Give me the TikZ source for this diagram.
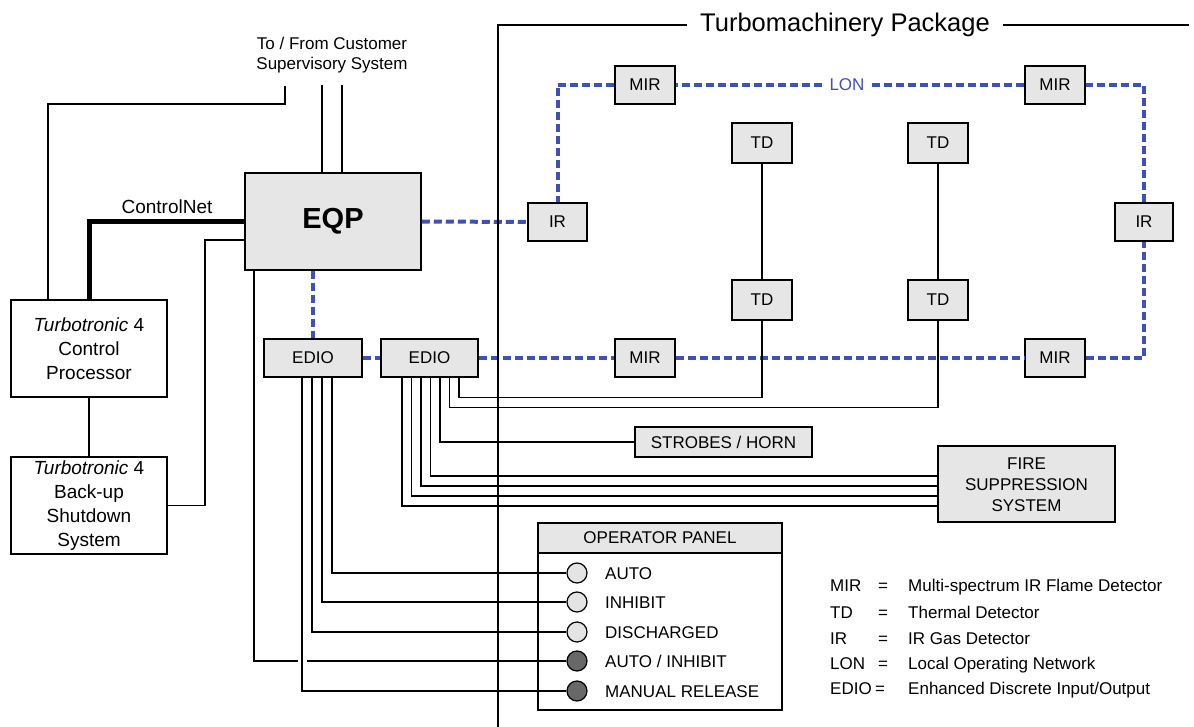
\documentclass[tikz,border=0pt]{standalone}
\usepackage{fontspec}
\setmainfont{Liberation Sans}
\definecolor{boxgray}{HTML}{E6E6E6}
\definecolor{lonblue}{HTML}{3F51B5}
\definecolor{dotlight}{HTML}{E4E4E4}
\definecolor{dotdark}{HTML}{686868}
\begin{document}
\begin{tikzpicture}[x=1pt,y=-1pt,
  every node/.style={inner sep=0pt, font=\fontsize{17}{20}\selectfont},
  wire/.style={line width=1.2pt},
  lonline/.style={draw=lonblue, line width=4pt, dash pattern=on 8pt off 4pt},
  unit/.style={draw, line width=1.5pt, fill=boxgray, minimum width=60pt, minimum height=38pt},
  whitebox/.style={draw, line width=1.5pt, fill=white, minimum width=156pt, minimum height=97pt, align=center, font=\fontsize{19}{24}\selectfont},
  lamp/.style={circle, draw, line width=1.2pt, minimum size=20pt},
  lbl/.style={anchor=west, text height=12.2pt, text depth=0pt},
]
\useasboundingbox (0,0) rectangle (1194,727);

% ---------- nodes ----------
\node[font=\fontsize{17}{19.5}\selectfont, align=center] (cust) at (332,55) {To / From Customer\\Supervisory System};
\node[unit, minimum width=176pt, minimum height=97pt, font=\fontsize{29}{34}\selectfont\bfseries] (eqp) at (333,221.5) {EQP};
\node[whitebox] (cp) at (89,348.5) {\textit{Turbotronic} 4\\Control\\Processor};
\node[whitebox] (bu) at (89,505.5) {\textit{Turbotronic} 4\\Back-up\\Shutdown\\System};
\node[font=\fontsize{19}{22}\selectfont] (cnet) at (167,207) {ControlNet};

\node[unit, minimum width=98pt] (edio1) at (313,358) {EDIO};
\node[unit, minimum width=97pt] (edio2) at (429.5,358) {EDIO};
\node[unit, minimum width=59pt] (ir1) at (557.5,222) {IR};
\node[unit] (mir1) at (645,85) {MIR};
\node[unit] (mir2) at (1055,85) {MIR};
\node[text=lonblue, inner xsep=7pt] (lon) at (847,85) {LON};
\node[unit, minimum height=40pt] (td1) at (762,143) {TD};
\node[unit, minimum height=40pt] (td2) at (938,143) {TD};
\node[unit, minimum height=40pt] (td3) at (762,300) {TD};
\node[unit, minimum height=40pt] (td4) at (938,300) {TD};
\node[unit, minimum width=58pt] (ir2) at (1144,222) {IR};
\node[unit] (mir3) at (645,358) {MIR};
\node[unit] (mir4) at (1055,358) {MIR};
\node[unit, minimum width=177pt, minimum height=30pt] (strobe) at (723.5,442) {STROBES / HORN};
\node[unit, minimum width=177pt, minimum height=76pt] (fire) at (1026.5,484) {};
\node[align=center, font=\fontsize{17}{21}\selectfont] (firetxt) at (1026.5,485) {FIRE\\SUPPRESSION\\SYSTEM};

\node[font=\fontsize{25.5}{30}\selectfont, inner xsep=13pt] (title) at (845,25) {Turbomachinery Package};

% operator panel
\node[draw, line width=1.5pt, fill=boxgray, minimum width=244pt, minimum height=30pt] (ophead) at (660,538) {OPERATOR PANEL};
\node[draw, line width=1.5pt, minimum width=244pt, minimum height=187pt] (op) at (660,616.5) {};
\node[lamp, fill=dotlight] (c1) at (577,573) {};
\node[lamp, fill=dotlight] (c2) at (577,602) {};
\node[lamp, fill=dotlight] (c3) at (577,632) {};
\node[lamp, fill=dotdark] (c4) at (577,661) {};
\node[lamp, fill=dotdark] (c5) at (577,691) {};
\node[lbl] (l1) at (605,573) {AUTO};
\node[lbl] (l2) at (605,602) {INHIBIT};
\node[lbl] (l3) at (605,632) {DISCHARGED};
\node[lbl] (l4) at (605,661) {AUTO / INHIBIT};
\node[lbl] (l5) at (605,691) {MANUAL RELEASE};

% legend
\node[lbl] (g1a) at (830,585) {MIR};
\node[lbl] (g2a) at (830,612) {TD};
\node[lbl] (g3a) at (830,638) {IR};
\node[lbl] (g4a) at (830,663) {LON};
\node[lbl] (g5a) at (830,688) {EDIO};
\node[lbl] (g1b) at (878,585) {=};
\node[lbl] (g2b) at (878,612) {=};
\node[lbl] (g3b) at (878,638) {=};
\node[lbl] (g4b) at (878,663) {=};
\node[lbl] (g5b) at (875,688) {=};
\node[lbl] (g1c) at (908,585) {Multi-spectrum IR Flame Detector};
\node[lbl] (g2c) at (908,612) {Thermal Detector};
\node[lbl] (g3c) at (908,638) {IR Gas Detector};
\node[lbl] (g4c) at (908,663) {Local Operating Network};
\node[lbl] (g5c) at (908,688) {Enhanced Discrete Input/Output};

% ---------- coordinates ----------
\coordinate (s1) at (285,86);
\coordinate (s1c) at (48,104);
\coordinate (j1) at (205,240);
\coordinate (j2) at (254,661);
\coordinate (gp1) at (298,661);
\coordinate (gp2) at (307,661);
\coordinate (dtop) at (498,25);
\coordinate (dbot) at (498,727);
\coordinate (dend) at (1189,25);

% ---------- LON network ----------
\draw[lonline] (edio1.north |- eqp.south) -- (edio1.north);
\draw[lonline] (edio1.east) -- (edio2.west);
\draw[lonline] (edio2.east) -- (mir3.west);
\draw[lonline] (mir3.east) -- (mir4.west);
\draw[lonline] (mir4.east) -| (ir2.south);
\draw[lonline] (ir2.north) |- (mir2.east);
\draw[lonline] (mir2.west) -- (lon.east);
\draw[lonline] (lon.west) -- (mir1.east);
\draw[lonline] (mir1.west) -| (ir1.north);
\draw[lonline] (eqp.east) -- (ir1.west);

% ---------- wires ----------
\draw[wire] (s1) |- (s1c) -- (s1c |- cp.north);
\draw[wire] ([xshift=-11pt]eqp.north) -- ++(0,-87);
\draw[wire] ([xshift=9pt]eqp.north) -- ++(0,-87);
\draw[line width=5pt] (cp.north) |- (eqp.west);
\draw[wire] (cp.south) -- (bu.north);
\draw[wire] (bu.east) -| (j1) -- (j1 -| eqp.west);
\draw[wire] (j2 |- eqp.south) -- (j2) -- (gp1);
\draw[wire] (gp2) -- (c4.west);

\draw[wire] ([xshift=19pt]edio1.south) |- (c1.west);
\draw[wire] ([xshift=9pt]edio1.south) |- (c2.west);
\draw[wire] ([xshift=-1pt]edio1.south) |- (c3.west);
\draw[wire] ([xshift=-11pt]edio1.south) |- (c5.west);

\draw[wire] ([xshift=29.5pt]edio2.south) -- ++(0,20) -| (td3.south);
\draw[wire] ([xshift=20pt]edio2.south) -- ++(0,30) -| (td4.south);
\draw[wire] ([xshift=10.5pt]edio2.south) |- (strobe.west);
\draw[wire] ([xshift=1pt]edio2.south) |- ([yshift=8pt]fire.west);
\draw[wire] ([xshift=-8.5pt]edio2.south) |- ([yshift=-2pt]fire.west);
\draw[wire] ([xshift=-18pt]edio2.south) |- ([yshift=-12pt]fire.west);
\draw[wire] ([xshift=-27.5pt]edio2.south) |- ([yshift=-22pt]fire.west);

\draw[wire] (td1.south) -- (td3.north);
\draw[wire] (td2.south) -- (td4.north);

\draw[wire] (dbot) -- (dtop) -- (title.west);
\draw[wire] (title.east) -- (dend);
\end{tikzpicture}
\end{document}
